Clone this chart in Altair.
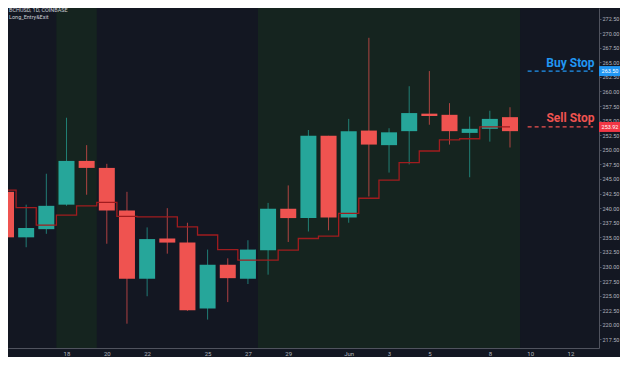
import altair as alt
import pandas as pd

# ---------------- data ----------------
dates = ["2020-05-15", "2020-05-16", "2020-05-17", "2020-05-18", "2020-05-19", "2020-05-20",
         "2020-05-21", "2020-05-22", "2020-05-23", "2020-05-24", "2020-05-25", "2020-05-26",
         "2020-05-27", "2020-05-28", "2020-05-29", "2020-05-30", "2020-05-31", "2020-06-01",
         "2020-06-02", "2020-06-03", "2020-06-04", "2020-06-05", "2020-06-06", "2020-06-07",
         "2020-06-08", "2020-06-09"]
open_ = [242.8, 235.0, 236.4, 240.6, 248.1, 246.9, 239.6, 227.9, 234.8, 234.1, 222.8, 230.3, 227.9,
         232.8, 239.9, 238.3, 252.4, 238.4, 253.3, 250.8, 253.2, 256.2, 256.0, 252.9, 253.6, 255.6]
close = [235.0, 236.6, 240.4, 248.1, 246.9, 239.6, 227.9, 234.7, 234.1, 222.5, 230.3, 228.0, 232.9,
         239.9, 238.3, 252.4, 238.4, 253.2, 250.9, 253.0, 256.3, 255.8, 253.2, 253.6, 255.3, 253.2]
high = [243.0, 240.6, 245.9, 255.5, 250.8, 247.6, 242.8, 236.7, 240.0, 237.5, 232.9, 231.4, 234.5,
        240.9, 243.9, 253.4, 252.4, 255.3, 269.2, 253.7, 260.9, 263.5, 258.0, 255.7, 256.7, 257.3]
low = [234.8, 233.3, 235.6, 240.4, 242.3, 233.9, 220.2, 224.9, 232.2, 222.4, 220.9, 223.9, 227.0,
       228.6, 234.2, 236.0, 236.2, 237.5, 242.0, 246.1, 247.5, 254.3, 250.9, 245.3, 251.4, 250.4]
trail_stop = [243.1, 240.1, 237.1, 238.8, 240.4, 241.0, 238.6, 238.5, 238.5, 236.8, 235.4, 232.9, 231.1,
              231.1, 232.8, 234.8, 235.2, 239.1, 241.7, 244.8, 247.8, 249.8, 251.7, 251.9, 253.92, 253.92]

band_start = ["2020-05-17T12:00:00Z", "2020-05-27T12:00:00Z"]
band_end = ["2020-05-19T12:00:00Z", "2020-06-09T12:00:00Z"]

stop_names = ["Buy Stop", "Sell Stop"]
stop_prices = [263.50, 253.92]
stop_line_start = ["2020-06-09T21:00:00Z", "2020-06-09T21:00:00Z"]
stop_line_end = ["2020-06-13T03:00:00Z", "2020-06-13T03:00:00Z"]
stop_label_at = ["2020-06-12T00:00:00Z", "2020-06-12T00:00:00Z"]

y_ticks = [217.5, 220.0, 222.5, 225.0, 227.5, 230.0, 232.5, 235.0, 237.5, 240.0, 242.5, 245.0,
           247.5, 250.0, 252.5, 255.0, 257.5, 260.0, 262.5, 265.0, 267.5, 270.0, 272.5, 275.0]
x_ticks = ["2020-05-18", "2020-05-20", "2020-05-22", "2020-05-25", "2020-05-27", "2020-05-29",
           "2020-06-01", "2020-06-03", "2020-06-05", "2020-06-08", "2020-06-10", "2020-06-12"]
header = "BCHUSD, 1D, COINBASE\nLong_Entry&Exit"

# ---------------- styles ----------------
BG = "#131722"
BAND = "#15241f"
UP = "#26a69a"
DOWN = "#ef5350"
STEP = "#a01c1f"
AXIS_LINE = "#50535e"
LABEL = "#b2b5be"
STOP_COLORS = ["#2196f3", "#ef5350"]
BADGE_COLORS = ["#2196f3", "#f23645"]


def dt(s, h=0, m=0):
    t = pd.Timestamp(s)
    return alt.DateTime(year=t.year, month=t.month, date=t.day, hours=h, minutes=m, utc=True)


candles = pd.DataFrame({
    "date": [d + "T00:00:00Z" for d in dates],
    "open": open_, "close": close, "high": high, "low": low,
})
candles["dir"] = ["up" if c >= o else "down" for o, c in zip(open_, close)]

step_ts = [pd.Timestamp(d + "T00:00:00Z") - pd.Timedelta(hours=12) for d in dates]
step_ts.append(pd.Timestamp(dates[-1] + "T00:00:00Z"))
step_df = pd.DataFrame({
    "t": [t.strftime("%Y-%m-%dT%H:%M:%SZ") for t in step_ts],
    "v": trail_stop + [trail_stop[-1]],
})

bands = pd.DataFrame({"s": band_start, "e": band_end})
stops = pd.DataFrame({"name": stop_names, "price": stop_prices,
                      "ls": stop_line_start, "le": stop_line_end, "lt": stop_label_at})

xs = alt.Scale(type="utc", domain=[dt("2020-05-15", 2, 22), dt("2020-06-13", 9, 58)], padding=0)
ys = alt.Scale(domain=[216.03, 274.31], zero=False, nice=False, padding=0)

x_axis = alt.Axis(
    values=[dt(v) for v in x_ticks], title=None, grid=False, orient="bottom",
    labelExpr="utcdate(datum.value) == 1 ? utcFormat(datum.value, '%b') : utcFormat(datum.value, '%-d')",
    labelFontSize=6, labelColor=LABEL, labelFont="Roboto", labelPadding=2,
    tickSize=0, domainColor=AXIS_LINE, labelFlush=False, labelOverlap=False,
)
y_axis = alt.Axis(
    values=y_ticks, format=".2f", title=None, grid=False, orient="right",
    labelFontSize=5.5, labelColor=LABEL, labelFont="Roboto", labelPadding=1,
    tickSize=2, tickColor=AXIS_LINE, domainColor=AXIS_LINE, labelOverlap=False,
)


def X(f):
    return alt.X(f, type="temporal", scale=xs, axis=x_axis)


def Y(f):
    return alt.Y(f, type="quantitative", scale=ys, axis=y_axis)


cscale = alt.Scale(domain=["up", "down"], range=[UP, DOWN])
sscale = alt.Scale(domain=stop_names, range=STOP_COLORS)

band_layer = alt.Chart(bands).mark_rect(color=BAND, clip=True).encode(x=X("s"), x2="e")

wicks = alt.Chart(candles).mark_rule(strokeWidth=1, opacity=0.7, clip=True).encode(
    x=X("date"), y=Y("low"), y2="high",
    color=alt.Color("dir:N", scale=cscale, legend=None))

bodies = alt.Chart(candles).mark_bar(size=16, clip=True).encode(
    x=X("date"), y=Y("open"), y2="close",
    color=alt.Color("dir:N", scale=cscale, legend=None))

step = alt.Chart(step_df).mark_line(interpolate="step-after", color=STEP, strokeWidth=1.3,
                                    clip=True).encode(x=X("t"), y=Y("v"))

stop_lines = alt.Chart(stops).mark_rule(strokeDash=[4, 3], strokeWidth=1.3).encode(
    x=X("ls"), x2="le", y=Y("price"),
    color=alt.Color("name:N", scale=sscale, legend=None))

stop_text = alt.Chart(stops).mark_text(font="Roboto", fontWeight="bold", fontSize=12,
                                       baseline="alphabetic", dy=-4.5).encode(
    x=X("lt"), y=Y("price"), text="name:N",
    color=alt.Color("name:N", scale=sscale, legend=None))

badges = alt.Chart(stops).mark_rule(strokeWidth=10, strokeCap="butt").encode(
    x=alt.value(591), x2=alt.value(613), y=Y("price"),
    color=alt.Color("name:N", scale=alt.Scale(domain=stop_names, range=BADGE_COLORS), legend=None))

badge_text = alt.Chart(stops).mark_text(font="Roboto", fontSize=5.5, color="white",
                                        align="center", baseline="middle").encode(
    x=alt.value(602), y=Y("price"), text=alt.Text("price:Q", format=".2f"))

head = alt.Chart(pd.DataFrame({"t": [header]})).mark_text(
    align="left", baseline="top", font="Roboto", fontSize=5.5, color="#c9ccd4",
    lineBreak="\n", lineHeight=7).encode(x=alt.value(1), y=alt.value(0), text="t:N")

chart = alt.layer(
    band_layer, wicks, bodies, step, stop_lines, stop_text, badges, badge_text, head
).resolve_scale(color="independent").properties(
    width=591, height=340, background=BG,
    autosize=alt.AutoSizeParams(type="none"),
    padding={"left": 0, "top": 0, "right": 21, "bottom": 9},
).configure_view(stroke=None, fill=BG)

chart.save("out.html", embed_options={"renderer": "svg", "actions": False})
